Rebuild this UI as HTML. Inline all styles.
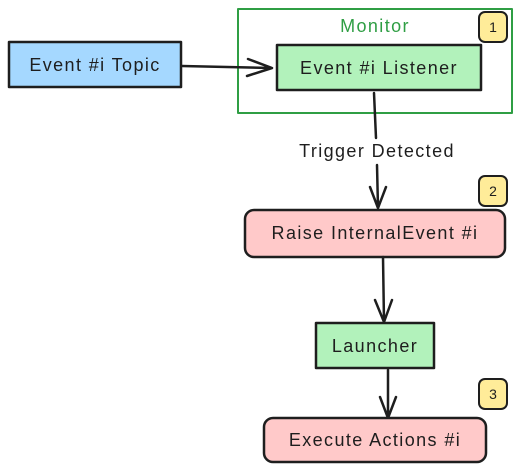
<!DOCTYPE html>
<html><head><style>
body{margin:0;background:#fff;width:522px;height:473px;overflow:hidden}
svg{display:block}
text{font-family:"Comic Sans MS","Liberation Sans",sans-serif;font-size:18px;letter-spacing:1.4px;fill:#1e1e1e}
</style></head><body>
<svg width="522" height="473" viewBox="0 0 522 473">
<g stroke-linecap="round" stroke-linejoin="round">
<rect x="238" y="9" width="274" height="104" fill="none" stroke="#2f9e44" stroke-width="2"/>
<text x="375" y="32" text-anchor="middle" style="fill:#2f9e44">Monitor</text>
<rect x="9" y="42" width="172" height="45" fill="#a5d8ff" stroke="#1e1e1e" stroke-width="2.5"/>
<text x="95" y="71" text-anchor="middle">Event #i Topic</text>
<rect x="277" y="45" width="204" height="45" fill="#b2f2bb" stroke="#1e1e1e" stroke-width="2.5"/>
<text x="379" y="74" text-anchor="middle">Event #i Listener</text>
<path d="M182 66 L272 68 M248 59 L272 68 L247 76" fill="none" stroke="#1e1e1e" stroke-width="2.5"/>
<path d="M374 93 L376 138 M377 165 L378 208 M370 187 L378 208 L386 187" fill="none" stroke="#1e1e1e" stroke-width="2.5"/>
<text x="377" y="157" text-anchor="middle">Trigger Detected</text>
<rect x="245" y="210" width="260" height="47" rx="9" fill="#ffc9c9" stroke="#1e1e1e" stroke-width="2.5"/>
<text x="375" y="239" text-anchor="middle">Raise InternalEvent #i</text>
<path d="M383 257 L384 322 M375 300 L384 322 L392 300" fill="none" stroke="#1e1e1e" stroke-width="2.5"/>
<rect x="316" y="323" width="118" height="45" fill="#b2f2bb" stroke="#1e1e1e" stroke-width="2.5"/>
<text x="375" y="352" text-anchor="middle">Launcher</text>
<path d="M388 370 L388 418 M380 397 L388 418 L396 397" fill="none" stroke="#1e1e1e" stroke-width="2.5"/>
<rect x="264" y="418" width="222" height="44" rx="9" fill="#ffc9c9" stroke="#1e1e1e" stroke-width="2.5"/>
<text x="375" y="446" text-anchor="middle">Execute Actions #i</text>
<g fill="#ffec99" stroke="#1e1e1e" stroke-width="2">
<rect x="479" y="12" width="28" height="30" rx="6"/>
<rect x="479" y="176" width="28" height="30" rx="6"/>
<rect x="479" y="379" width="28" height="30" rx="6"/>
</g>
<text x="493" y="32" text-anchor="middle" style="font-size:14px;letter-spacing:0">1</text>
<text x="493" y="196" text-anchor="middle" style="font-size:14px;letter-spacing:0">2</text>
<text x="493" y="399" text-anchor="middle" style="font-size:14px;letter-spacing:0">3</text>
</g>
</svg>
</body></html>
